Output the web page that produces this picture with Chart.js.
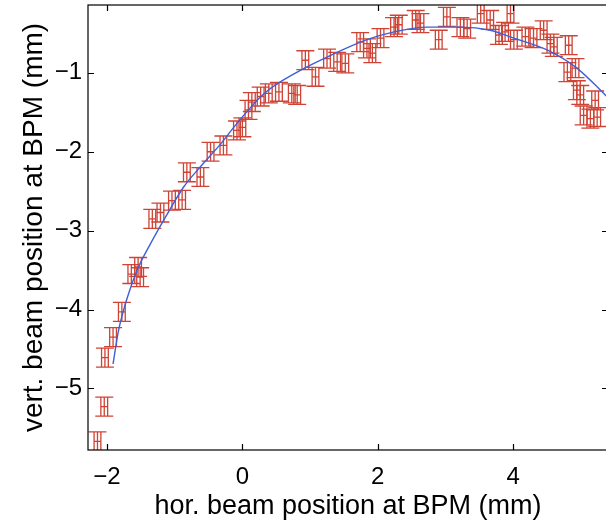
<!DOCTYPE html>
<html>
<head>
<meta charset="utf-8">
<script src="https://cdn.jsdelivr.net/npm/chart.js@4.4.1/dist/chart.umd.min.js"></script>
<style>
html,body{margin:0;padding:0;background:#fff;overflow:hidden;width:606px;height:524px;}
#wrap{position:relative;width:612px;height:524px;}
</style>
</head>
<body>
<div id="wrap"><canvas id="c"></canvas></div>
<script>
// axis ticks
const xTicks = [-2, 0, 2, 4];
const yTicks = [-5, -4, -3, -2, -1];
// measured beam positions (mm)
const measX = [-2.14,-2.04,-2.03,-1.91,-1.78,-1.64,-1.54,-1.51,-1.33,-1.21,-1.04,-0.89,-0.82,-0.62,-0.47,-0.28,-0.08,0.00,0.09,0.14,0.27,0.39,0.54,0.73,0.81,1.08,0.93,1.25,1.40,1.52,1.74,1.84,1.92,2.04,2.24,2.31,2.56,2.63,2.90,3.02,3.22,3.32,3.52,3.66,3.96,3.79,3.88,4.01,4.18,4.30,4.45,4.55,4.60,4.82,4.92,4.80,4.94,4.99,5.21,5.24,5.04,5.14];
const measY = [-5.67,-5.23,-4.61,-4.35,-4.03,-3.55,-3.46,-3.59,-2.85,-2.77,-2.62,-2.61,-2.26,-2.32,-2.00,-1.92,-1.73,-1.69,-1.47,-1.37,-1.30,-1.26,-1.24,-1.26,-1.28,-1.05,-0.84,-0.82,-0.86,-0.88,-0.61,-0.69,-0.75,-0.56,-0.42,-0.39,-0.33,-0.37,-0.58,-0.29,-0.42,-0.44,-0.25,-0.33,-0.25,-0.52,-0.48,-0.58,-0.54,-0.56,-0.46,-0.63,-0.67,-0.65,-0.94,-0.99,-1.22,-1.28,-1.35,-1.56,-1.54,-1.58];
// error half-widths (mm)
const xErr = 0.05;
const yErr = 0.12;
// fitted curve
const fitX = [-1.91,-1.83,-1.70,-1.56,-1.36,-1.11,-0.87,-0.62,-0.32,-0.08,0.31,0.81,1.30,1.84,2.24,2.73,3.22,3.66,4.01,4.50,4.94,5.29,5.45];
const fitY = [-4.69,-4.27,-3.85,-3.51,-3.17,-2.79,-2.45,-2.19,-1.90,-1.64,-1.27,-0.99,-0.78,-0.58,-0.48,-0.42,-0.42,-0.46,-0.56,-0.71,-0.94,-1.22,-1.36];

const RED = '#cf4334';
const BLUE = '#3d5fd8';
const FONT = 'Liberation Sans, Arial, sans-serif';
const minus = v => String(v).replace('-', '\u2212');

const errPlugin = {
  id: 'err',
  beforeDatasetsDraw(chart) {
    const {ctx, chartArea: a, scales: {x, y}} = chart;
    ctx.save();
    ctx.beginPath(); ctx.rect(a.left, a.top, a.right - a.left, a.bottom - a.top); ctx.clip();
    ctx.strokeStyle = RED; ctx.lineWidth = 1.3;
    const cap = 9;
    for (let i = 0; i < measX.length; i++) {
      const px = x.getPixelForValue(measX[i]);
      const py = y.getPixelForValue(measY[i]);
      const y1 = y.getPixelForValue(measY[i] + yErr);
      const y2 = y.getPixelForValue(measY[i] - yErr);
      const x1 = x.getPixelForValue(measX[i] - xErr);
      const x2 = x.getPixelForValue(measX[i] + xErr);
      ctx.beginPath();
      ctx.moveTo(px, y1); ctx.lineTo(px, y2);
      ctx.moveTo(px - cap, y1); ctx.lineTo(px + cap, y1);
      ctx.moveTo(px - cap, y2); ctx.lineTo(px + cap, y2);
      ctx.moveTo(x1, py); ctx.lineTo(x2, py);
      ctx.moveTo(x1, py - cap); ctx.lineTo(x1, py + cap);
      ctx.moveTo(x2, py - cap); ctx.lineTo(x2, py + cap);
      ctx.stroke();
    }
    ctx.restore();
  },
  afterDraw(chart) {
    const {ctx, chartArea: a, scales: {x, y}} = chart;
    ctx.save();
    ctx.strokeStyle = '#000'; ctx.lineWidth = 1.2;
    ctx.strokeRect(a.left, a.top, a.right - a.left, a.bottom - a.top);
    ctx.beginPath();
    const t = 6;
    xTicks.forEach(v => {
      const p = Math.round(x.getPixelForValue(v)) + 0.5;
      ctx.moveTo(p, a.bottom); ctx.lineTo(p, a.bottom - t);
      ctx.moveTo(p, a.top); ctx.lineTo(p, a.top + t);
    });
    yTicks.forEach(v => {
      const p = Math.round(y.getPixelForValue(v)) + 0.5;
      ctx.moveTo(a.left, p); ctx.lineTo(a.left + t, p);
      ctx.moveTo(a.right, p); ctx.lineTo(a.right - t, p);
    });
    ctx.stroke();
    ctx.restore();
  }
};

new Chart(document.getElementById('c'), {
  type: 'scatter',
  data: {
    datasets: [
      {
        label: 'measured',
        data: measX.map((v, i) => ({x: v, y: measY[i]})),
        pointRadius: 0,
        showLine: false
      },
      {
        label: 'fit',
        data: fitX.map((v, i) => ({x: v, y: fitY[i]})),
        showLine: true,
        borderColor: BLUE,
        borderWidth: 1.4,
        pointRadius: 0,
        cubicInterpolationMode: 'monotone',
        fill: false
      }
    ]
  },
  options: {
    responsive: true,
    maintainAspectRatio: false,
    animation: false,
    layout: {autoPadding: false, padding: {top: 5, right: 4, left: 0, bottom: 0}},
    plugins: {legend: {display: false}, tooltip: {enabled: false}},
    scales: {
      x: {
        type: 'linear',
        min: -2.28, max: 5.40,
        afterBuildTicks: s => { s.ticks = xTicks.map(v => ({value: v})); },
        afterFit: s => { s.height = 74; s.paddingLeft = 0; s.paddingRight = 0; },
        grid: {display: false, drawTicks: false},
        border: {display: false},
        ticks: {
          color: '#000', padding: 13,
          font: {family: FONT, size: 24},
          callback: v => minus(v)
        },
        title: {
          display: true, text: 'hor. beam position at BPM (mm)', color: '#000',
          font: {family: FONT, size: 27},
          padding: {top: 0, bottom: 1}
        }
      },
      y: {
        type: 'linear',
        min: -5.78, max: -0.14,
        afterBuildTicks: s => { s.ticks = yTicks.map(v => ({value: v})); },
        afterFit: s => { s.width = 88; s.paddingTop = 0; s.paddingBottom = 0; },
        grid: {display: false, drawTicks: false},
        border: {display: false},
        ticks: {
          color: '#000', padding: 6,
          font: {family: FONT, size: 24},
          callback: v => minus(v)
        },
        title: {
          display: true, text: 'vert. beam position at BPM (mm)', color: '#000',
          font: {family: FONT, size: 28},
          padding: {top: 17, bottom: 0}
        }
      }
    }
  },
  plugins: [errPlugin]
});
</script>
</body>
</html>
